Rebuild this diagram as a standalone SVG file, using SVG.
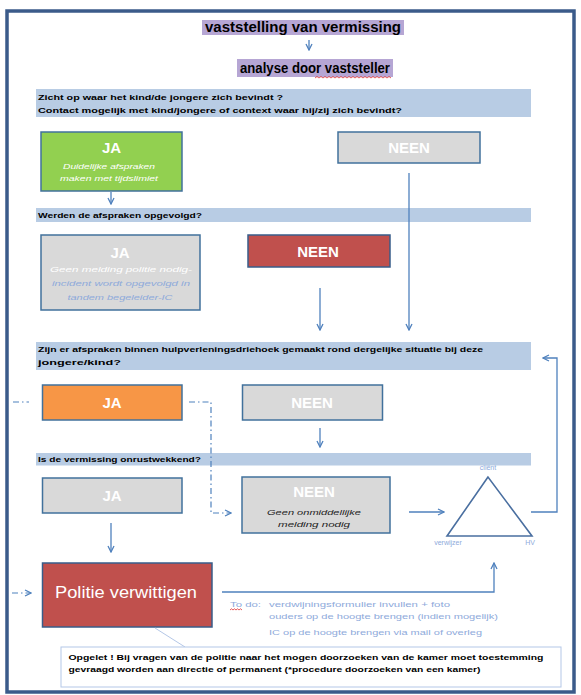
<svg xmlns="http://www.w3.org/2000/svg" width="581" height="695" viewBox="0 0 581 695">
<style>
.t{font-family:"Liberation Sans",Arial,sans-serif}
.band{fill:#b8cce4}
.bt{font-family:"Liberation Sans",Arial,sans-serif;font-size:8px;font-weight:bold;fill:#000}
.box{stroke:#41719c;stroke-width:1.5}
.big{font-family:"Liberation Sans",Arial,sans-serif;font-size:15px;font-weight:bold;fill:#fff;text-anchor:middle}
.it{font-family:"Liberation Sans",Arial,sans-serif;font-size:7.5px;font-style:italic;text-anchor:middle}
.ar{fill:none;stroke:#4f81bd;stroke-width:1.3}
.dd{fill:none;stroke:#4f81bd;stroke-width:1.2;stroke-dasharray:6 3 1.5 3}
.lb{font-family:"Liberation Sans",Arial,sans-serif;font-size:7px;fill:#8eaadb}
.nt{font-family:"Liberation Sans",Arial,sans-serif;font-size:7.5px;font-weight:bold;fill:#000}
</style>
<defs>
<marker id="ah" viewBox="0 0 8 8" refX="7" refY="4" markerWidth="8" markerHeight="8" markerUnits="userSpaceOnUse" orient="auto">
<path d="M1,1 L7,4 L1,7" fill="none" stroke="#4f81bd" stroke-width="1.3"/>
</marker>
</defs>
<rect width="581" height="695" fill="#fff"/>
<rect x="7" y="11" width="567" height="681" fill="#fff" stroke="#3b5b8a" stroke-width="3.5"/>

<g id="title">
<rect x="202" y="20" width="202" height="15" fill="#b6a6d4"/>
<text class="t" x="303" y="32" font-size="14" font-weight="bold" text-anchor="middle" textLength="196" lengthAdjust="spacingAndGlyphs">vaststelling van vermissing</text>
</g>
<g id="analyse">
<rect x="237" y="59" width="156" height="18" fill="#b6a6d4"/>
<text class="t" x="315" y="73" font-size="14.5" font-weight="bold" text-anchor="middle" textLength="150" lengthAdjust="spacingAndGlyphs">analyse door vaststeller</text>
<path d="M315,78 l2,-1.5 l2,1.5 l2,-1.5 l2,1.5 l2,-1.5 l2,1.5 l2,-1.5 l2,1.5 l2,-1.5 l2,1.5 l2,-1.5 l2,1.5 l2,-1.5 l2,1.5 l2,-1.5 l2,1.5 l2,-1.5 l2,1.5 l2,-1.5 l2,1.5 l2,-1.5 l2,1.5 l2,-1.5 l2,1.5 l2,-1.5 l2,1.5 l2,-1.5 l2,1.5 l2,-1.5 l2,1.5 l2,-1.5 l2,1.5 l2,-1.5 l2,1.5 l2,-1.5 l2,1.5 l2,-1.5 l2,1.5" fill="none" stroke="#e03030" stroke-width="0.8"/>
</g>

<g id="q1">
<rect class="band" x="36" y="89" width="495" height="28"/>
<text class="bt" x="38" y="100" textLength="245" lengthAdjust="spacingAndGlyphs">Zicht op waar  het kind/de jongere zich bevindt  ?</text>
<text class="bt" x="38" y="113" textLength="364" lengthAdjust="spacingAndGlyphs">Contact mogelijk met kind/jongere of context waar hij/zij zich bevindt?</text>
</g>
<g id="ja1">
<rect class="box" x="41" y="132" width="141" height="59" fill="#92d050"/>
<text class="big" x="111.5" y="153">JA</text>
<text class="it" x="109" y="169" fill="#fff" textLength="92" lengthAdjust="spacingAndGlyphs">Duidelijke afspraken</text>
<text class="it" x="109" y="181" fill="#fff" textLength="98" lengthAdjust="spacingAndGlyphs">maken met tijdslimiet</text>
</g>
<g id="neen1">
<rect class="box" x="338" y="132" width="142" height="31" fill="#d9d9d9"/>
<text class="big" x="409" y="153">NEEN</text>
</g>

<g id="q2">
<rect class="band" x="36" y="208" width="495" height="14"/>
<text class="bt" x="38" y="218" textLength="164" lengthAdjust="spacingAndGlyphs">Werden de afspraken opgevolgd?</text>
</g>
<g id="ja2">
<rect class="box" x="41" y="235" width="159" height="75" fill="#d9d9d9"/>
<text class="big" x="120" y="258">JA</text>
<text class="it" x="121" y="272" fill="#fff" textLength="142" lengthAdjust="spacingAndGlyphs">Geen melding politie nodig-</text>
<text class="it" x="121" y="286" fill="#8eaadb" textLength="138" lengthAdjust="spacingAndGlyphs">incident wordt opgevolgd in</text>
<text class="it" x="120" y="300" fill="#8eaadb" textLength="105" lengthAdjust="spacingAndGlyphs">tandem begeleider-IC</text>
</g>
<g id="neen2">
<rect x="248" y="235" width="142" height="32" fill="#c0504d" stroke="#385d8a" stroke-width="1.5"/>
<text class="big" x="318" y="257" font-size="16">NEEN</text>
</g>

<g id="q3">
<rect class="band" x="36" y="342" width="495" height="28"/>
<text class="bt" x="38" y="352" textLength="445" lengthAdjust="spacingAndGlyphs">Zijn er afspraken  binnen hulpverleningsdriehoek gemaakt rond dergelijke situatie bij deze</text>
<text class="bt" x="38" y="365" textLength="83" lengthAdjust="spacingAndGlyphs">jongere/kind?</text>
</g>
<g id="ja3">
<rect class="box" x="42.5" y="385" width="139.5" height="35" fill="#f79646"/>
<text class="big" x="112" y="408">JA</text>
</g>
<g id="neen3">
<rect class="box" x="242.5" y="385" width="140" height="35" fill="#d9d9d9"/>
<text class="big" x="312" y="408">NEEN</text>
</g>

<g id="q4">
<rect class="band" x="36" y="453" width="495" height="12.5"/>
<text class="bt" x="38" y="462" textLength="163" lengthAdjust="spacingAndGlyphs">Is de vermissing onrustwekkend?</text>
</g>
<g id="ja4">
<rect class="box" x="42.5" y="478" width="139.5" height="35" fill="#d9d9d9"/>
<text class="big" x="112" y="501">JA</text>
</g>
<g id="neen4">
<rect class="box" x="242" y="477" width="148" height="56" fill="#d9d9d9"/>
<text class="big" x="314" y="497">NEEN</text>
<text class="it" x="314" y="515" fill="#222" textLength="94" lengthAdjust="spacingAndGlyphs">Geen onmiddellijke</text>
<text class="it" x="314" y="527" fill="#222" textLength="72" lengthAdjust="spacingAndGlyphs">melding nodig</text>
</g>

<g id="driehoek">
<path d="M488,477 L447,536 L532,536 Z" fill="none" stroke="#4a6fa0" stroke-width="1.6"/>
<text class="lb" x="488" y="470" text-anchor="middle" font-size="6.5">cliënt</text>
<text class="lb" x="448" y="545" text-anchor="middle" font-size="6.5">verwijzer</text>
<text class="lb" x="530" y="545" text-anchor="middle" font-size="6.5">HV</text>
</g>

<g id="politie">
<rect x="42.5" y="563" width="169.5" height="64" fill="#c0504d" stroke="#385d8a" stroke-width="1.5"/>
<text class="t" x="126" y="598" font-size="16" fill="#fff" text-anchor="middle" textLength="142" lengthAdjust="spacingAndGlyphs">Politie verwittigen</text>
</g>

<g id="todo">
<text class="lb" x="230" y="607" textLength="31" lengthAdjust="spacingAndGlyphs">To do:</text>
<path d="M230,610 l1.5,-1.2 l1.5,1.2 l1.5,-1.2 l1.5,1.2 l1.5,-1.2 l1.5,1.2 l1.5,-1.2 l1.5,1.2" fill="none" stroke="#e03030" stroke-width="0.8"/>
<text class="lb" x="269" y="607" textLength="181" lengthAdjust="spacingAndGlyphs">verdwijningsformulier invullen + foto</text>
<text class="lb" x="269" y="619" textLength="229" lengthAdjust="spacingAndGlyphs">ouders op de hoogte brengen  (indien mogelijk)</text>
<text class="lb" x="269" y="635" textLength="213" lengthAdjust="spacingAndGlyphs">IC op de hoogte brengen  via mail of overleg</text>
</g>

<g id="opgelet">
<line x1="155" y1="628" x2="185" y2="647" stroke="#b4c7e7" stroke-width="1"/>
<rect x="61" y="647" width="500" height="40" fill="#fff" stroke="#b4c7e7" stroke-width="1"/>
<text class="nt" x="68.5" y="660" textLength="475" lengthAdjust="spacingAndGlyphs">Opgelet ! Bij vragen  van de politie naar het mogen doorzoeken  van de kamer moet toestemming</text>
<text class="nt" x="68.5" y="672" textLength="412" lengthAdjust="spacingAndGlyphs">gevraagd  worden aan directie of permanent  (*procedure  doorzoeken van een kamer)</text>
</g>

<g id="connectors">
<line class="ar" x1="309" y1="40" x2="309" y2="50" marker-end="url(#ah)"/>
<line class="ar" x1="111" y1="192" x2="111" y2="204" marker-end="url(#ah)"/>
<line class="ar" x1="409" y1="173" x2="409" y2="330" marker-end="url(#ah)"/>
<line class="ar" x1="320" y1="288" x2="320" y2="330" marker-end="url(#ah)"/>
<line class="ar" x1="320" y1="428" x2="320" y2="447" marker-end="url(#ah)"/>
<line class="ar" x1="111" y1="523" x2="111" y2="552" marker-end="url(#ah)"/>
<line class="ar" x1="409" y1="512" x2="444" y2="512" marker-end="url(#ah)"/>
<polyline class="ar" points="531,512 557,512 557,358 543,358" marker-end="url(#ah)"/>
<polyline class="ar" points="222,592 494,592 494,563" marker-end="url(#ah)"/>
<line class="dd" x1="13" y1="402" x2="29" y2="402"/>
<polyline class="dd" points="189,402 211,402 211,513 231,513" marker-end="url(#ah)"/>
<line class="dd" x1="12" y1="593" x2="31" y2="593" marker-end="url(#ah)"/>
</g>
</svg>
